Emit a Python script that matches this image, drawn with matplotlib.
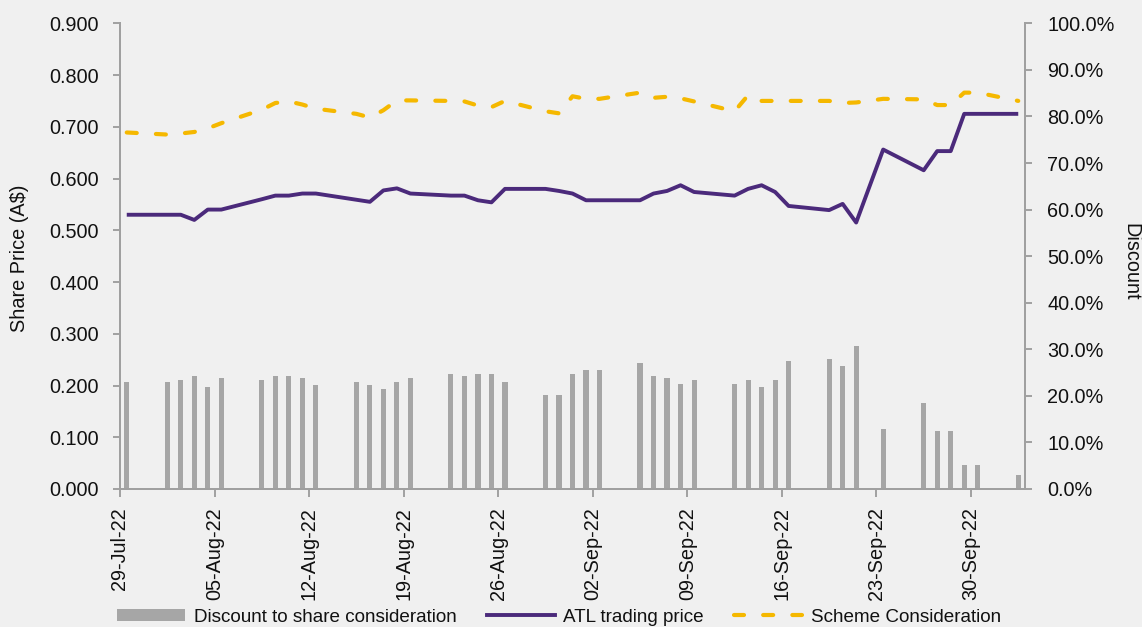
import matplotlib
matplotlib.use("Agg")
import matplotlib.pyplot as plt
import pandas as pd
import numpy as np
from matplotlib import font_manager
from matplotlib.patches import Patch
from matplotlib.lines import Line2D
from matplotlib.ticker import FuncFormatter, MultipleLocator

# ---------------- data ----------------
dates = ["2022-07-29", "2022-08-01", "2022-08-02", "2022-08-03", "2022-08-04", "2022-08-05",
         "2022-08-08", "2022-08-09", "2022-08-10", "2022-08-11", "2022-08-12",
         "2022-08-15", "2022-08-16", "2022-08-17", "2022-08-18", "2022-08-19",
         "2022-08-22", "2022-08-23", "2022-08-24", "2022-08-25", "2022-08-26",
         "2022-08-29", "2022-08-30", "2022-08-31", "2022-09-01", "2022-09-02",
         "2022-09-05", "2022-09-06", "2022-09-07", "2022-09-08", "2022-09-09",
         "2022-09-12", "2022-09-13", "2022-09-14", "2022-09-15", "2022-09-16",
         "2022-09-19", "2022-09-20", "2022-09-21", "2022-09-23",
         "2022-09-26", "2022-09-27", "2022-09-28", "2022-09-29", "2022-09-30",
         "2022-10-03"]

atl_price = [0.530, 0.530, 0.530, 0.520, 0.540, 0.540,
             0.560, 0.567, 0.567, 0.571, 0.571,
             0.559, 0.555, 0.577, 0.581, 0.571,
             0.567, 0.567, 0.558, 0.554, 0.580,
             0.580, 0.576, 0.571, 0.558, 0.558,
             0.558, 0.571, 0.576, 0.587, 0.574,
             0.567, 0.580, 0.587, 0.574, 0.547,
             0.539, 0.551, 0.515, 0.656,
             0.616, 0.653, 0.653, 0.725, 0.725,
             0.725]

scheme_consideration = [0.689, 0.685, 0.687, 0.690, 0.697, 0.707,
                        0.733, 0.746, 0.749, 0.743, 0.735,
                        0.725, 0.718, 0.732, 0.751, 0.751,
                        0.750, 0.749, 0.741, 0.738, 0.750,
                        0.730, 0.726, 0.759, 0.754, 0.754,
                        0.766, 0.756, 0.758, 0.755, 0.749,
                        0.730, 0.761, 0.750, 0.750, 0.750,
                        0.750, 0.746, 0.747, 0.754,
                        0.753, 0.742, 0.742, 0.766, 0.766,
                        0.750]

discount = [22.9, 22.9, 23.3, 24.2, 21.9, 23.8,
            23.3, 24.2, 24.2, 23.8, 22.4,
            22.9, 22.4, 21.5, 22.9, 23.8,
            24.7, 24.2, 24.7, 24.7, 22.9,
            20.2, 20.2, 24.7, 25.6, 25.6,
            27.0, 24.3, 23.8, 22.5, 23.3,
            22.5, 23.3, 22.0, 23.3, 27.4,
            27.9, 26.5, 30.6, 12.9,
            18.4, 12.5, 12.5, 5.2, 5.2,
            2.9]

start_date = "2022-07-29"
end_date = "2022-10-03"

# ---------------- fonts ----------------
available = {f.name for f in font_manager.fontManager.ttflist}
FONT = "Liberation Sans Narrow" if "Liberation Sans Narrow" in available else "Liberation Sans"
plt.rcParams["font.family"] = [FONT, "DejaVu Sans"]
FS = 14.3
FS_LEG = 13.6

BG = "#F0F0F0"
AXC = "#A0A0A0"
BAR = "#A6A6A6"
PURPLE = "#4B2A7B"
YELLOW = "#F5B800"
TXT = "#111111"

d = pd.to_datetime(dates)
t0 = pd.Timestamp(start_date)
t1 = pd.Timestamp(end_date)
x = np.array((d - t0).days, dtype=float) + 0.5
ndays = (t1 - t0).days + 1

W, H = 1142, 627
fig = plt.figure(figsize=(W / 100, H / 100), dpi=100, facecolor=BG)
ax = fig.add_axes([120 / W, 1 - 489 / H, (1025 - 120) / W, (489 - 23.3) / H])
ax2 = ax.twinx()

# bars on right axis
ax2.bar(x, np.array(discount) / 100.0, width=0.38, color=BAR, zorder=2)
ax2.set_ylim(0, 1.0)
ax2.yaxis.set_major_locator(MultipleLocator(0.1))
ax2.yaxis.set_major_formatter(FuncFormatter(lambda v, p: f"{v*100:.1f}%"))

# lines on left axis
ax.plot(x, atl_price, color=PURPLE, lw=2.8, solid_capstyle="butt", zorder=3)
ax.plot(x, scheme_consideration, color=YELLOW, lw=3.0,
        linestyle=(0, (2.4, 4.6)), dash_capstyle="round", zorder=3)
ax.set_ylim(0, 0.9)
ax.yaxis.set_major_locator(MultipleLocator(0.1))
ax.yaxis.set_major_formatter(FuncFormatter(lambda v, p: f"{v:.3f}"))

ax.set_zorder(ax2.get_zorder() + 1)
ax.patch.set_visible(False)
ax2.patch.set_facecolor(BG)

ax.set_xlim(0, ndays)
ticks = np.arange(0, ndays - 1, 7)
ax.set_xticks(ticks)
ax.set_xticklabels([(t0 + pd.Timedelta(days=int(k))).strftime("%d-%b-%y") for k in ticks],
                   rotation=90, fontsize=FS)

for a in (ax, ax2):
    a.spines["top"].set_visible(False)
    for s in ("left", "right", "bottom"):
        a.spines[s].set_color(AXC)
        a.spines[s].set_linewidth(1.4)
    a.tick_params(colors=AXC, labelcolor=TXT, width=1.4, labelsize=FS)

ax.tick_params(axis="y", length=5, pad=10)
ax2.tick_params(axis="y", length=5, pad=11)
ax.tick_params(axis="x", length=6, pad=7)

fig.text(20 / W, 1 - 258 / H, "Share Price (A$)", rotation=90, ha="center", va="center",
         fontsize=FS, color=TXT)
fig.text(1131 / W, 1 - 262 / H, "Discount", rotation=270, ha="center", va="center",
         fontsize=FS, color=TXT)

handles = [Patch(facecolor=BAR, edgecolor="none"),
           Line2D([], [], color=PURPLE, lw=2.8),
           Line2D([], [], color=YELLOW, lw=3.0, linestyle=(0, (2.4, 4.6)), dash_capstyle="round")]
labels = ["Discount to share consideration", "ATL trading price", "Scheme Consideration"]
fig.legend(handles, labels, loc="center", bbox_to_anchor=(559 / W, 1 - 617 / H), ncol=3,
           frameon=False, fontsize=FS_LEG, handlelength=3.6, handleheight=0.6,
           handletextpad=0.45, columnspacing=1.6, labelcolor=TXT)

fig.savefig("out.png", dpi=100, facecolor=BG)
